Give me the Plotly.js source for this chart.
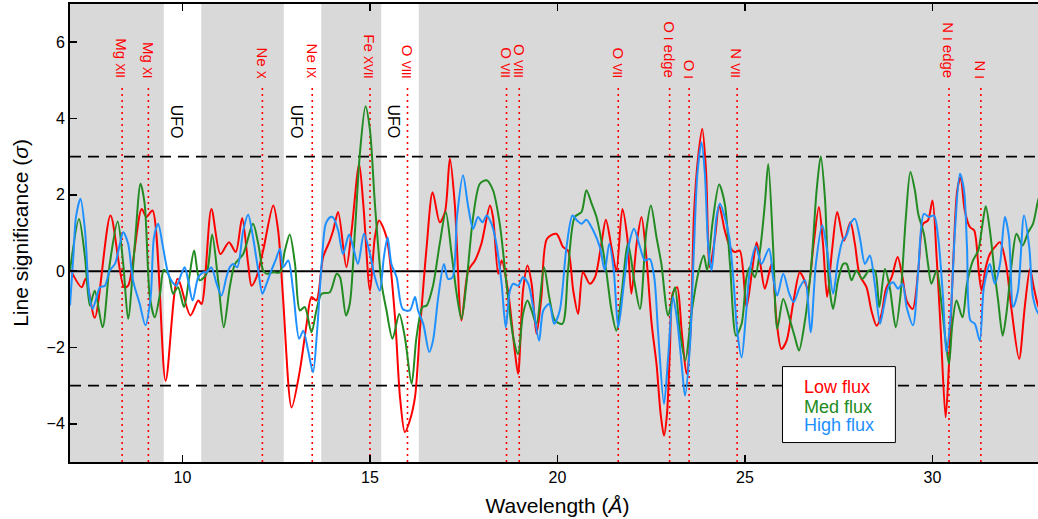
<!DOCTYPE html>
<html><head><meta charset="utf-8">
<script src="https://cdn.plot.ly/plotly-3.0.1.min.js"></script>
<style>html,body{margin:0;padding:0;overflow:hidden;background:#fff}</style>
</head><body>
<div id="chart" style="width:1045px;height:519px"></div>
<script>
// ---- data ----
const lowX = [7.0,7.31,7.42,7.66,8.08,8.44,8.55,8.91,9.04,9.2,9.55,9.87,10.21,10.42,10.51,10.77,11.01,11.24,11.42,11.59,11.75,11.84,11.97,12.15,12.42,12.55,12.68,12.91,13.13,13.31,13.44,13.57,13.75,13.93,14.02,14.15,14.37,14.51,14.71,14.82,15.0,15.13,15.24,15.44,15.66,15.8,15.93,16.06,16.2,16.33,16.51,16.67,16.86,17.0,17.13,17.26,17.44,17.62,17.8,17.97,18.2,18.28,18.42,18.51,18.68,18.86,18.95,19.08,19.2,19.31,19.44,19.57,19.72,19.97,20.15,20.28,20.42,20.55,20.68,20.86,21.0,21.17,21.29,21.44,21.57,21.73,21.86,21.97,22.11,22.24,22.37,22.51,22.64,22.75,22.84,22.92,23.0,23.07,23.19,23.31,23.44,23.55,23.64,23.75,23.86,23.96,24.06,24.2,24.31,24.46,24.6,24.73,24.86,25.04,25.19,25.31,25.41,25.53,25.71,25.84,25.97,26.11,26.28,26.46,26.55,26.68,26.82,26.97,27.08,27.19,27.32,27.46,27.64,27.81,27.93,28.06,28.24,28.37,28.51,28.64,28.76,28.91,29.07,29.2,29.31,29.47,29.62,29.75,29.88,30.0,30.11,30.22,30.35,30.44,30.55,30.66,30.75,30.86,31.0,31.11,31.24,31.31,31.42,31.53,31.66,31.8,31.96,32.11,32.31,32.46,32.6,32.7,32.83,33.0];
const lowY = [0.06,-0.42,-0.2,-1.22,1.46,-0.42,-0.38,1.63,1.42,1.59,-2.87,-0.2,-1.16,-0.77,-0.86,1.63,0.45,0.76,0.5,1.39,0.19,-0.38,-0.16,0.54,1.72,1.07,-0.68,-3.57,-2.6,-1.38,-0.68,-0.77,0.37,0.8,1.07,1.55,0.1,1.07,2.81,1.77,-0.51,0.89,1.33,0.89,-1.12,-3.3,-4.22,-3.92,-3.3,-1.56,0.63,2.07,1.28,1.55,2.95,1.77,-1.29,0.02,0.28,0.72,1.72,1.42,-0.07,0.28,-0.51,-2.08,-2.69,-0.51,0.15,-0.33,-1.64,-0.68,0.85,0.98,0.63,0.54,-0.51,-1.12,-0.03,-0.33,-0.16,0.72,1.35,0.63,0.02,1.63,0.89,-0.59,0.72,1.42,0.37,-1.38,-2.43,-3.74,-4.31,-3.74,-1.99,-0.59,-0.42,-1.56,-2.69,-1.56,1.5,2.99,3.73,2.64,0.1,0.89,1.72,1.07,0.63,0.5,0.54,-0.94,0.02,0.76,0.19,-0.46,0.19,-1.29,-2.04,-1.82,-0.86,-0.03,-0.16,-0.46,0.63,1.68,0.72,-0.68,0.54,1.55,0.8,1.28,0.72,-0.11,-0.42,-1.03,-1.43,-1.12,-0.46,-0.16,0.37,-0.16,-0.77,-0.99,0.02,1.24,1.33,1.85,0.37,-1.56,-3.83,-2.43,0.19,2.12,2.47,1.59,1.15,1.07,-0.07,-0.51,0.1,0.45,0.63,0.76,0.19,-1.03,-2.3,-0.94,0.06,-0.42,-0.94,-1.2];

const medX = [7.0,7.24,7.4,7.53,7.66,7.87,8.06,8.27,8.42,8.55,8.73,8.88,8.99,9.13,9.26,9.4,9.5,9.62,9.75,9.88,10.04,10.18,10.31,10.46,10.64,10.79,10.95,11.1,11.26,11.4,11.62,11.88,12.02,12.15,12.24,12.42,12.6,12.73,12.86,13.0,13.13,13.26,13.44,13.57,13.71,13.93,14.11,14.2,14.36,14.46,14.6,14.73,14.88,15.0,15.13,15.31,15.44,15.6,15.78,15.93,16.11,16.24,16.4,16.51,16.68,16.86,17.02,17.17,17.31,17.44,17.57,17.75,17.93,18.11,18.28,18.46,18.64,18.82,18.95,19.08,19.2,19.31,19.44,19.64,19.78,19.93,20.13,20.28,20.46,20.64,20.77,20.91,21.04,21.17,21.31,21.44,21.57,21.71,21.88,22.06,22.2,22.37,22.49,22.64,22.77,22.95,23.13,23.26,23.41,23.57,23.75,23.9,23.99,24.13,24.31,24.46,24.6,24.76,24.91,25.04,25.13,25.26,25.4,25.53,25.62,25.75,25.86,26.02,26.2,26.33,26.44,26.6,26.77,26.91,27.02,27.13,27.24,27.35,27.48,27.62,27.71,27.84,27.97,28.13,28.31,28.46,28.58,28.73,28.86,29.02,29.15,29.29,29.41,29.53,29.62,29.77,29.88,29.97,30.11,30.24,30.36,30.44,30.53,30.64,30.8,30.92,31.08,31.22,31.31,31.42,31.53,31.66,31.75,31.87,31.97,32.11,32.24,32.4,32.55,32.68,32.83,33.0];
const medY = [0.02,1.37,0.37,-0.9,-0.51,-1.47,0.19,1.3,0.19,-1.25,0.72,2.29,1.77,-0.68,-1.21,-0.59,0.03,-0.07,-0.59,-0.42,-0.94,-0.16,0.54,-0.24,-0.07,0.96,-0.24,-1.47,-0.42,0.19,0.45,1.24,0.72,0.02,-0.07,-0.03,-0.03,0.54,0.96,0.19,-1.03,-0.94,-1.6,-1.03,-0.59,-0.55,-0.07,-0.16,-1.16,-0.86,1.07,3.08,4.32,3.69,1.77,-0.33,-1.03,-1.77,-1.12,-1.73,-2.95,-1.73,-0.94,-0.9,-0.38,0.72,1.55,0.5,-0.59,-1.25,-0.33,1.42,2.29,2.38,2.12,1.24,-0.33,-1.73,-2.17,-1.12,-0.77,-1.03,-1.38,0.1,-0.68,-1.29,-1.38,0.02,1.42,1.55,2.12,1.77,1.42,0.8,-0.07,-1.03,-1.56,-0.59,0.72,-0.33,-0.99,1.07,1.72,0.89,0.19,-1.16,-0.42,-1.56,-2.34,-1.12,-0.07,0.41,0.02,1.24,2.27,1.77,0.19,-1.69,-1.38,-0.16,0.1,-0.16,0.54,1.77,2.81,0.63,-1.51,-0.73,-1.29,-1.73,-2.08,-1.29,0.19,2.12,3.01,1.94,-0.33,-0.99,-0.24,0.19,0.19,-0.24,0.02,-0.2,0.02,0.02,-0.94,0.06,-0.42,-1.47,-0.59,1.42,2.6,2.12,1.5,0.98,0.19,-0.33,0.02,-0.86,-1.91,-2.43,-1.38,-0.77,-1.21,-0.33,0.28,0.54,1.07,1.7,1.07,-0.07,-0.77,-1.69,-1.12,0.19,0.98,0.67,1.02,1.24,1.9,2.3];

const highX = [7.0,7.09,7.16,7.28,7.4,7.51,7.6,7.71,7.8,7.93,8.06,8.2,8.33,8.42,8.55,8.68,8.86,9.01,9.15,9.24,9.35,9.48,9.62,9.73,9.84,9.97,10.06,10.15,10.27,10.42,10.55,10.64,10.77,10.91,11.04,11.17,11.26,11.35,11.46,11.62,11.75,11.88,12.02,12.13,12.24,12.37,12.48,12.6,12.68,12.82,12.95,13.11,13.22,13.35,13.48,13.59,13.71,13.82,13.95,14.02,14.15,14.28,14.44,14.55,14.68,14.84,15.0,15.13,15.26,15.37,15.47,15.57,15.71,15.87,16.06,16.2,16.28,16.42,16.58,16.68,16.82,16.97,17.08,17.2,17.32,17.48,17.62,17.75,17.88,18.0,18.11,18.24,18.37,18.51,18.62,18.73,18.82,18.95,19.08,19.22,19.35,19.51,19.62,19.78,19.91,20.06,20.24,20.4,20.52,20.64,20.77,20.95,21.13,21.26,21.38,21.5,21.62,21.77,21.91,22.04,22.2,22.33,22.46,22.58,22.68,22.84,22.95,23.08,23.19,23.31,23.4,23.53,23.64,23.73,23.84,23.93,24.02,24.11,24.24,24.33,24.46,24.58,24.7,24.79,24.91,25.02,25.13,25.29,25.44,25.64,25.75,25.86,26.02,26.18,26.3,26.46,26.6,26.75,26.89,27.06,27.19,27.35,27.48,27.6,27.71,27.81,27.93,28.06,28.2,28.33,28.46,28.6,28.7,28.82,28.95,29.08,29.2,29.31,29.48,29.62,29.77,29.91,30.04,30.15,30.28,30.37,30.48,30.6,30.73,30.84,30.92,31.01,31.13,31.26,31.37,31.53,31.66,31.8,31.93,32.04,32.15,32.28,32.44,32.58,32.68,32.83,33.0];
const highY = [-0.9,0.4,1.42,1.9,1.07,-0.59,-0.99,-0.68,-0.42,-0.38,0.02,0.19,0.72,1.02,0.72,-0.24,-0.86,-1.42,-0.68,0.89,1.24,0.63,-0.07,-0.29,-0.38,-0.07,0.1,-0.24,-0.77,-0.16,-0.03,-0.03,0.1,-0.33,-0.64,-0.16,0.1,0.19,0.1,1.07,1.48,0.89,0.02,-0.59,-0.33,0.02,0.28,0.59,0.1,0.28,-0.51,-1.77,-1.56,-2.08,-2.65,-1.56,0.19,1.24,1.42,1.4,1.07,0.45,0.96,0.63,0.19,0.98,0.45,-0.16,-0.51,0.37,0.89,0.19,-0.16,-0.99,-1.03,-0.68,-1.03,-1.38,-2.12,-1.82,-0.68,0.19,-0.2,-0.16,1.42,2.51,1.68,1.11,1.42,1.28,1.46,1.24,0.72,-0.33,-1.47,-0.51,-0.33,-0.38,-0.16,-0.33,-0.94,-1.82,-1.03,-0.86,-1.38,-1.03,0.63,1.46,1.33,1.24,1.35,1.07,0.63,0.02,0.72,0.02,-1.47,-0.33,0.72,1.11,0.63,0.28,0.32,-0.16,-1.56,-3.48,-2.26,-0.68,-1.29,-2.43,-3.26,-1.99,0.63,2.55,3.38,2.55,0.63,0.02,1.42,1.77,1.42,0.89,-0.33,-1.56,-2.26,-1.21,0.02,0.65,0.19,0.59,-0.16,-0.64,-0.07,-0.59,-0.81,-0.42,-0.24,-1.6,0.19,1.2,0.54,-0.59,0.28,0.8,0.94,1.24,1.37,0.89,0.19,0.41,-0.33,-1.38,-0.94,-0.42,-0.29,-0.46,-0.33,-0.94,-1.42,0.02,1.5,1.42,1.46,0.89,-0.68,-2.12,-1.21,1.07,2.55,2.12,0.63,-1.29,-1.38,-1.82,-0.42,0.19,-0.33,0.19,1.42,0.89,-0.94,-0.51,1.46,0.63,-0.68,-1.12,-1.2];

const seriesNames = ['Low flux','Med flux','High flux'];
const seriesColors = ['#ff0000','#228b22','#1e90ff'];

// wavelength ranges left unshaded (UFO bands)
const gapStart = [9.5, 12.7, 15.3];
const gapEnd   = [10.5, 13.7, 16.3];
const ufoX = [9.84, 13.04, 15.63];

// identified lines
const lineWl    = [8.39, 9.09, 12.13, 13.46, 15.0, 16.0, 18.64, 18.98, 21.62, 22.99, 23.51, 24.79, 30.44, 31.29];
const lineElem  = ['Mg','Mg','Ne','Ne','Fe','O','O','O','O','O','O','N','N','N'];
const lineStage = ['XII','XI','X','IX','XVII','VIII','VII','VIII','VII','I','I','VII','I','I'];
const lineSuffix= ['','','','','','','','','',' edge','','',' edge',''];

const xTicks = [10, 15, 20, 25, 30];
const yTicks = [-4, -2, 0, 2, 4, 6];

// ---- build ----
const xs = [lowX, medX, highX], ys = [lowY, medY, highY];
const traces = xs.map((x, i) => ({
  x: x, y: ys[i], type: 'scatter', mode: 'lines', name: seriesNames[i],
  line: {color: seriesColors[i], width: 2, shape: 'spline', smoothing: 0.8},
  showlegend: false, hoverinfo: 'skip'
}));

const shapes = [];
gapStart.forEach((s, i) => shapes.push({type:'rect', xref:'x', yref:'paper', x0:s, x1:gapEnd[i], y0:0, y1:1, fillcolor:'#ffffff', line:{width:0}, layer:'below'}));
shapes.push({type:'line', xref:'paper', yref:'y', x0:0, x1:1, y0:0, y1:0, line:{color:'#000', width:2}, layer:'below'});
[3, -3].forEach(v => shapes.push({type:'line', xref:'paper', yref:'y', x0:0, x1:1, y0:v, y1:v, line:{color:'#000', width:1.6, dash:'11px,7px'}, layer:'below'}));
lineWl.forEach(w => shapes.push({type:'line', xref:'x', yref:'y', x0:w, x1:w, y0:-5, y1:4.87, line:{color:'#ff0000', width:1.6, dash:'2px,4px'}, layer:'below'}));
// legend box
shapes.push({type:'rect', xref:'x', yref:'y', x0:26.0, x1:29.01, y0:-4.49, y1:-2.5, fillcolor:'#ffffff', line:{color:'#000', width:1}, layer:'above'});

const annotations = [];
lineWl.forEach((w, i) => annotations.push({
  x: w, y: 5.0, xref:'x', yref:'y', xanchor:'center', yanchor:'bottom', textangle: 90, showarrow:false,
  text: lineElem[i] + ' <span style="font-size:12px">' + lineStage[i] + '</span>' + lineSuffix[i],
  font: {color:'#ff0000', size:15, family:'Liberation Sans, Arial, sans-serif'}
}));
ufoX.forEach(u => annotations.push({
  x: u, y: 3.93, xref:'x', yref:'y', xanchor:'center', yanchor:'middle', textangle: 90, showarrow:false,
  text:'UFO', font:{color:'#000', size:16, family:'Liberation Sans, Arial, sans-serif'}
}));
const legY = [-3.04, -3.56, -4.04];
seriesNames.forEach((n, i) => annotations.push({
  x: 26.53, y: legY[i], xref:'x', yref:'y', xanchor:'left', yanchor:'middle', showarrow:false,
  text: n, font:{color: seriesColors[i], size:18, family:'Liberation Sans, Arial, sans-serif'}
}));

const axisCommon = {
  showline:true, linecolor:'#000', linewidth:2, mirror:'ticks', ticks:'inside', ticklen:7, tickwidth:1.5, tickcolor:'#000',
  showgrid:false, zeroline:false, tickfont:{size:16, color:'#000', family:'Liberation Sans, Arial, sans-serif'}
};

const layout = {
  width:1045, height:519,
  margin:{l:70, r:0, t:4, b:57},
  paper_bgcolor:'#ffffff', plot_bgcolor:'#d9d9d9',
  font:{family:'Liberation Sans, Arial, sans-serif', color:'#000'},
  xaxis: Object.assign({}, axisCommon, {range:[7,33], tickvals:xTicks, ticktext:xTicks.map(String),
    title:{text:'Wavelength (<i>Å</i>)', font:{size:21}, standoff:13}}),
  yaxis: Object.assign({}, axisCommon, {range:[-5,7], tickvals:yTicks,
    title:{text:'Line significance (<i>σ</i>)', font:{size:21}, standoff:12}}),
  shapes: shapes, annotations: annotations, showlegend:false
};

Plotly.newPlot('chart', traces, layout, {staticPlot:true, displayModeBar:false});
</script>
</body></html>
